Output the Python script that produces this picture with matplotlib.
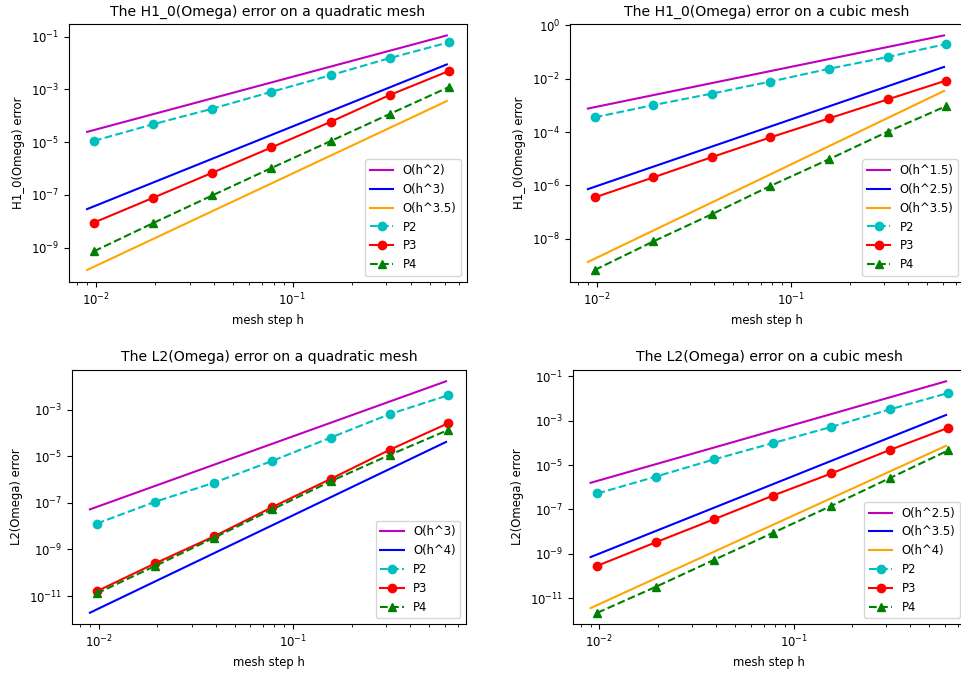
import numpy as np
import matplotlib
matplotlib.use("Agg")
import matplotlib.pyplot as plt
from matplotlib.ticker import NullLocator

plt.rcParams["font.size"] = 8.4
plt.rcParams["axes.titlesize"] = 10.1

# mesh steps
h = np.array([0.009765625, 0.01953125, 0.0390625, 0.078125, 0.15625, 0.3125, 0.625])
# reference lines are drawn between these two h values
h_ref = np.array([0.009, 0.61])

# log10 of the errors
h1_quad_p2 = [-4.95, -4.32, -3.73, -3.09, -2.46, -1.81, -1.21]
h1_quad_p3 = [-8.05, -7.11, -6.16, -5.20, -4.23, -3.21, -2.30]
h1_quad_p4 = [-9.14, -8.07, -7.02, -5.98, -4.96, -3.93, -2.91]
h1_quad_refs = {"O(h^2)": [-4.61, -0.95], "O(h^3)": [-7.54, -2.05], "O(h^3.5)": [-9.85, -3.44]}

h1_cub_p2 = [-3.45, -2.99, -2.56, -2.11, -1.63, -1.19, -0.70]
h1_cub_p3 = [-6.45, -5.70, -4.94, -4.20, -3.49, -2.78, -2.07]
h1_cub_p4 = [-9.17, -8.10, -7.08, -6.02, -5.02, -3.99, -3.03]
h1_cub_refs = {"O(h^1.5)": [-3.12, -0.38], "O(h^2.5)": [-6.14, -1.56], "O(h^3.5)": [-8.87, -2.46]}

l2_quad_p2 = [-7.89, -6.95, -6.14, -5.20, -4.20, -3.20, -2.39]
l2_quad_p3 = [-10.79, -9.59, -8.44, -7.18, -5.97, -4.73, -3.59]
l2_quad_p4 = [-10.88, -9.70, -8.50, -7.28, -6.07, -4.95, -3.88]
l2_quad_refs = {"O(h^3)": [-7.28, -1.79], "O(h^4)": [-11.71, -4.39]}

l2_cub_p2 = [-6.28, -5.52, -4.74, -4.01, -3.28, -2.49, -1.75]
l2_cub_p3 = [-9.54, -8.48, -7.44, -6.38, -5.38, -4.32, -3.32]
l2_cub_p4 = [-11.66, -10.49, -9.27, -8.06, -6.84, -5.59, -4.34]
l2_cub_refs = {"O(h^2.5)": [-5.80, -1.22], "O(h^3.5)": [-9.15, -2.74], "O(h^4)": [-11.45, -4.13]}

ref_colors = ["m", "b", "orange"]

W, H = 962, 673
fig = plt.figure(figsize=(W / 100, H / 100), dpi=100)


def make_axes(left, top, right, bottom):
  return fig.add_axes([left / W, 1 - bottom / H, (right - left) / W, (bottom - top) / H])


def panel(ax, title, ylabel, refs, p2, p3, p4, yticks):
  for (lab, vals), col in zip(refs.items(), ref_colors):
    ax.loglog(h_ref, 10.0 ** np.array(vals), color=col, label=lab)
  ax.loglog(h, 10.0 ** np.array(p2), "c--o", label="P2")
  ax.loglog(h, 10.0 ** np.array(p3), "r-o", label="P3")
  ax.loglog(h, 10.0 ** np.array(p4), "g--^", label="P4")
  ax.set_yticks(10.0 ** np.array(yticks))
  ax.yaxis.set_minor_locator(NullLocator())
  ax.set_title(title)
  ax.set_xlabel("mesh step h")
  ax.set_ylabel(ylabel)
  ax.legend(loc="lower right")


ax1 = make_axes(69, 23.7, 467, 281.7)
panel(ax1, "The H1_0(Omega) error on a quadratic mesh", "H1_0(Omega) error",
      h1_quad_refs, h1_quad_p2, h1_quad_p3, h1_quad_p4, [-9, -7, -5, -3, -1])

ax2 = make_axes(570, 23.7, 964, 281.7)
panel(ax2, "The H1_0(Omega) error on a cubic mesh", "H1_0(Omega) error",
      h1_cub_refs, h1_cub_p2, h1_cub_p3, h1_cub_p4, [-8, -6, -4, -2, 0])

ax3 = make_axes(72, 369.7, 466, 624.3)
panel(ax3, "The L2(Omega) error on a quadratic mesh", "L2(Omega) error",
      l2_quad_refs, l2_quad_p2, l2_quad_p3, l2_quad_p4, [-11, -9, -7, -5, -3])

ax4 = make_axes(572.7, 369.7, 966, 624.3)
panel(ax4, "The L2(Omega) error on a cubic mesh", "L2(Omega) error",
      l2_cub_refs, l2_cub_p2, l2_cub_p3, l2_cub_p4, [-11, -9, -7, -5, -3, -1])

fig.savefig("out.png", dpi=100)
